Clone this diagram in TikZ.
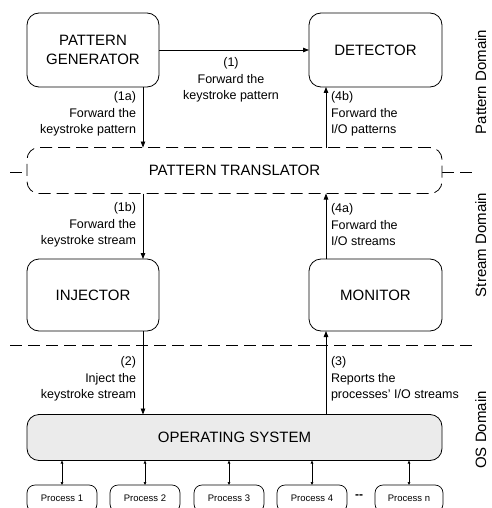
\documentclass[tikz,border=0pt]{standalone}
\usepackage{fontspec}
\setmainfont{Liberation Sans}
\usetikzlibrary{arrows.meta}
\begin{document}
\begin{tikzpicture}[x=1pt, y=-1pt,
  every node/.style={inner sep=0pt, outer sep=0pt},
  box/.style={draw, line width=0.8pt, rounded corners=12pt, align=center,
    font=\fontsize{15}{19}\selectfont},
  smallbox/.style={draw, line width=0.7pt, rounded corners=8pt,
    minimum width=70pt, minimum height=27pt, font=\fontsize{9.5}{11}\selectfont},
  lbl/.style={font=\fontsize{12.5}{16.5}\selectfont},
  dom/.style={rotate=90, anchor=base, font=\fontsize{15}{18}\selectfont},
  arr/.style={line width=0.8pt, -{Triangle[length=6pt,width=4.5pt]}},
  darr/.style={line width=0.6pt, {Triangle[length=3pt,width=2.6pt]}-{Triangle[length=3pt,width=2.6pt]}},
  sep/.style={line width=0.8pt, dash pattern=on 12pt off 6pt},
]
\useasboundingbox (0,0) rectangle (491,508);
\fill[white] (0,0) rectangle (491,508);
\clip (0,0) rectangle (491,508);

% column positions of the vertical connectors
\coordinate (colL) at (143,0);
\coordinate (colR) at (326,0);

% domain separators
\coordinate (sepA1) at (10,172);
\coordinate (sepA2) at (473,172);
\coordinate (sepB1) at (10,345);
\coordinate (sepB2) at (473,345);
\draw[sep] (sepA1) -- (sepA2);
\draw[sep] (sepB1) -- (sepB2);

% pattern domain
\node[box, minimum width=132pt, minimum height=74pt] (gen) at (93,50) {PATTERN\\GENERATOR};
\node[box, minimum width=133pt, minimum height=74pt] (det) at (375.5,50) {DETECTOR};
\node[box, sep, fill=white, minimum width=415pt, minimum height=46pt] (trans) at (234.5,170.5) {PATTERN TRANSLATOR};

% stream domain
\node[box, minimum width=132pt, minimum height=72pt] (inj) at (93,295) {INJECTOR};
\node[box, minimum width=133pt, minimum height=72pt] (mon) at (375.5,295) {MONITOR};

% OS domain
\node[box, fill=black!8, minimum width=415pt, minimum height=46pt] (os) at (234.5,437.5) {OPERATING SYSTEM};

\node[smallbox] (p1) at (62,498.5) {Process 1};
\node[smallbox] (p2) at (145,498.5) {Process 2};
\node[smallbox] (p3) at (229,498.5) {Process 3};
\node[smallbox] (p4) at (312,498.5) {Process 4};
\node[smallbox, minimum width=68pt] (pn) at (409,498.5) {Process n};
\node[font=\fontsize{12}{12}\selectfont\bfseries] (gap) at (359,497) {{-}{-}};

\foreach \p in {p1,p2,p3,p4,pn}
  \draw[darr] (os.south -| \p) -- (\p.north);

% connectors
\draw[arr] (gen.east |- gen) -- (det.west |- gen);
\draw[arr] (gen.south -| colL) -- (trans.north -| colL);
\draw[arr] (trans.south -| colL) -- (inj.north -| colL);
\draw[arr] (inj.south -| colL) -- (os.north -| colL);
\draw[arr] (os.north -| colR) -- (mon.south -| colR);
\draw[arr] (mon.north -| colR) -- (trans.south -| colR);
\draw[arr] (trans.north -| colR) -- (det.south -| colR);

% connector labels
\node[lbl, align=center] (l1) at (231,80) {(1)\\Forward the\\keystroke pattern};
\node[lbl, align=right, anchor=east] (l1a) at (136,114) {(1a)\\Forward the\\keystroke pattern};
\node[lbl, align=left, anchor=west] (l4b) at (331,114) {(4b)\\Forward the\\I/O patterns};
\node[lbl, align=right, anchor=east] (l1b) at (136,225) {(1b)\\Forward the\\keystroke stream};
\node[lbl, align=left, anchor=west] (l4a) at (331,225) {(4a)\\Forward the\\I/O streams};
\node[lbl, align=right, anchor=east] (l2) at (136,379) {(2)\\Inject the\\keystroke stream};
\node[lbl, align=left, anchor=west] (l3) at (331,379) {(3)\\Reports the\\processes' I/O streams};

% domain names
\node[dom] (dpat) at (486,82) {Pattern Domain};
\node[dom] (dstr) at (486,245) {Stream Domain};
\node[dom] (dos) at (486,430) {OS Domain};
\end{tikzpicture}
\end{document}
